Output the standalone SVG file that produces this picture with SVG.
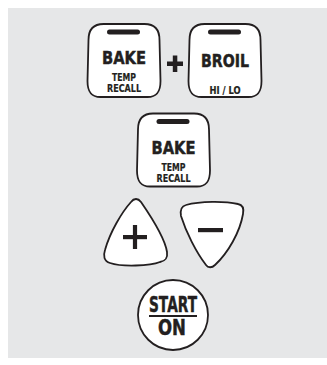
<svg xmlns="http://www.w3.org/2000/svg" width="327" height="365" viewBox="0 0 327 365">
<defs>
<style>
.key{fill:#ffffff;stroke:#231f20;stroke-width:1.8;stroke-linejoin:round}
.ink{fill:#231f20}
.big{font-family:"DejaVu Sans","Liberation Sans",Arial,sans-serif;font-weight:bold;font-size:18px;fill:#231f20;stroke:#231f20;stroke-width:0.5;text-anchor:middle}
.small{font-family:"DejaVu Sans","Liberation Sans",Arial,sans-serif;font-weight:bold;font-size:10px;fill:#231f20;stroke:#231f20;stroke-width:0.2;text-anchor:middle}
.start{font-family:"DejaVu Sans","Liberation Sans",Arial,sans-serif;font-weight:bold;font-size:22px;fill:#231f20;stroke:#231f20;stroke-width:0.5;text-anchor:middle}
</style>
<path id="sq" d="M16,0 L57,0 C67,0 72,6 72,16 L73,57 C73,67 70,73 60,73 L13,73 C3,73 0,67 0,57 L1,16 C1,6 6,0 16,0 Z"/>
</defs>
<rect x="8" y="8" width="319" height="350" fill="#e6e7e8"/>

<g id="bake1">
<use href="#sq" class="key" x="87.5" y="24"/>
<rect fill="#231f20" x="107" y="29.5" width="33" height="5" rx="2.5"/>
<text class="big" x="124" y="64" textLength="44" lengthAdjust="spacingAndGlyphs">BAKE</text>
<text class="small" x="124" y="81" textLength="24" lengthAdjust="spacingAndGlyphs">TEMP</text>
<text class="small" x="124" y="92" textLength="34" lengthAdjust="spacingAndGlyphs">RECALL</text>
</g>

<g id="plus-sign">
<rect class="ink" x="167" y="61.5" width="16" height="4.5"/>
<rect class="ink" x="172.8" y="55.5" width="4.5" height="16.5"/>
</g>

<g id="broil">
<use href="#sq" class="key" x="188.5" y="24"/>
<rect fill="#231f20" x="208" y="29.5" width="33" height="5" rx="2.5"/>
<text class="big" x="225" y="67" textLength="48" lengthAdjust="spacingAndGlyphs">BROIL</text>
<text class="small" x="225" y="94" textLength="31" lengthAdjust="spacingAndGlyphs">HI / LO</text>
</g>

<g id="bake2">
<use href="#sq" class="key" x="137" y="113.5"/>
<rect fill="#231f20" x="156.5" y="119" width="33" height="5" rx="2.5"/>
<text class="big" x="173.5" y="154" textLength="44" lengthAdjust="spacingAndGlyphs">BAKE</text>
<text class="small" x="173.5" y="170.5" textLength="24" lengthAdjust="spacingAndGlyphs">TEMP</text>
<text class="small" x="173.5" y="181.5" textLength="34" lengthAdjust="spacingAndGlyphs">RECALL</text>
</g>

<g id="up">
<path class="key" d="M131,202 C134,198 138,198 141,202 C152,218 165,238 167,252 C168,259 165,261 160,262 C150,266 122,267 110,263 C104,261 103,256 105,250 C110,232 122,212 131,202 Z"/>
<rect class="ink" x="123" y="235" width="24" height="4.2"/>
<rect class="ink" x="132.9" y="225" width="4.2" height="24"/>
</g>

<g id="down">
<path class="key" d="M186,205 C200,201 225,201 238,204 C243,205 244,209 243,214 C240,232 228,253 215,265 C212,268 208,268 206,265 C196,252 186,232 181,216 C180,210 182,206 186,205 Z"/>
<rect class="ink" x="198" y="228" width="25" height="4.2"/>
</g>

<g id="start">
<circle class="key" cx="173" cy="315" r="35"/>
<text class="start" x="173" y="312" textLength="48" lengthAdjust="spacingAndGlyphs">START</text>
<rect class="ink" x="149" y="315" width="48" height="2"/>
<text class="start" x="172" y="335" textLength="28" lengthAdjust="spacingAndGlyphs">ON</text>
</g>
</svg>
